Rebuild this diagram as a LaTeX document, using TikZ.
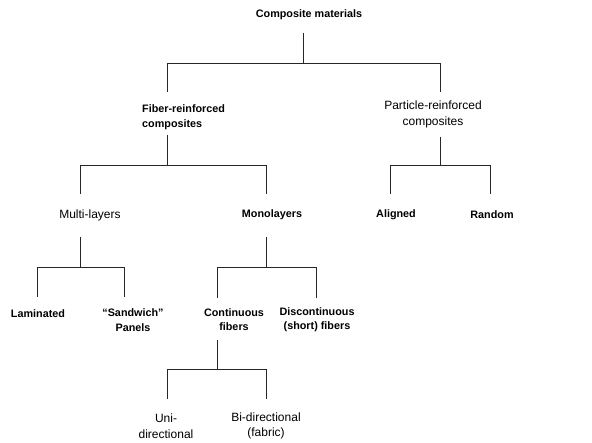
\documentclass[tikz,border=0pt]{standalone}
\usepackage{fontspec}
\setmainfont{Liberation Sans}

\tikzset{
  bold/.style={font=\fontsize{10.8}{14.5}\selectfont\bfseries, inner sep=0pt, align=center},
  plain/.style={font=\fontsize{12}{15.5}\selectfont, inner sep=0pt, align=center},
  link/.style={draw=black!85, line width=0.8pt}
}

\begin{document}
\begin{tikzpicture}[x=1pt,y=-1pt]
  \useasboundingbox (0,0) rectangle (592,443);

  % labels
  \node[bold] (cm) at (309,15) {Composite materials};
  \node[bold, align=left, anchor=west] (fib) at (142,117) {Fiber-reinforced\\composites};
  \node[plain] (par) at (433,114.5) {Particle-reinforced\\composites};
  \node[plain] (mul) at (90,215) {Multi-layers};
  \node[bold] (mon) at (272,215) {Monolayers};
  \node[bold] (ali) at (396,215) {Aligned};
  \node[bold] (ran) at (492,215) {Random};
  \node[bold] (lam) at (38,314) {Laminated};
  \node[bold] (san) at (133,320) {“Sandwich”\\Panels};
  \node[bold] (con) at (234,319.5) {Continuous\\fibers};
  \node[bold] (dis) at (317,319.5) {Discontinuous\\(short) fibers};
  \node[plain] (uni) at (166,426) {Uni-\\directional};
  \node[plain] (bid) at (266,426) {Bi-directional\\(fabric)};

  % stems below parents
  \coordinate (cmS) at (303,33);
  \coordinate (fibS) at (167,135);
  \coordinate (parS) at (440,137);
  \coordinate (mulS) at (80,237);
  \coordinate (monS) at (266,237);
  \coordinate (conS) at (217,340);

  % line ends above children
  \coordinate (fibT) at (167,92);
  \coordinate (parT) at (440,92);
  \coordinate (mulT) at (80,194);
  \coordinate (monT) at (266,194);
  \coordinate (aliT) at (390,194);
  \coordinate (ranT) at (490,194);
  \coordinate (lamT) at (37,297);
  \coordinate (sanT) at (124,297);
  \coordinate (conT) at (217,298);
  \coordinate (disT) at (316,298);
  \coordinate (uniT) at (167,399);
  \coordinate (bidT) at (266,399);

  % connectors
  \draw[link] (cmS) -- ++(0,30);
  \draw[link] (fibT) -- ++(0,-29) -| (parT);
  \draw[link] (fibS) -- ++(0,30);
  \draw[link] (mulT) -- ++(0,-29) -| (monT);
  \draw[link] (parS) -- ++(0,28);
  \draw[link] (aliT) -- ++(0,-29) -| (ranT);
  \draw[link] (mulS) -- ++(0,30);
  \draw[link] (lamT) -- ++(0,-30) -| (sanT);
  \draw[link] (monS) -- ++(0,30);
  \draw[link] (conT) -- ++(0,-31) -| (disT);
  \draw[link] (conS) -- ++(0,29);
  \draw[link] (uniT) -- ++(0,-30) -| (bidT);
\end{tikzpicture}
\end{document}
